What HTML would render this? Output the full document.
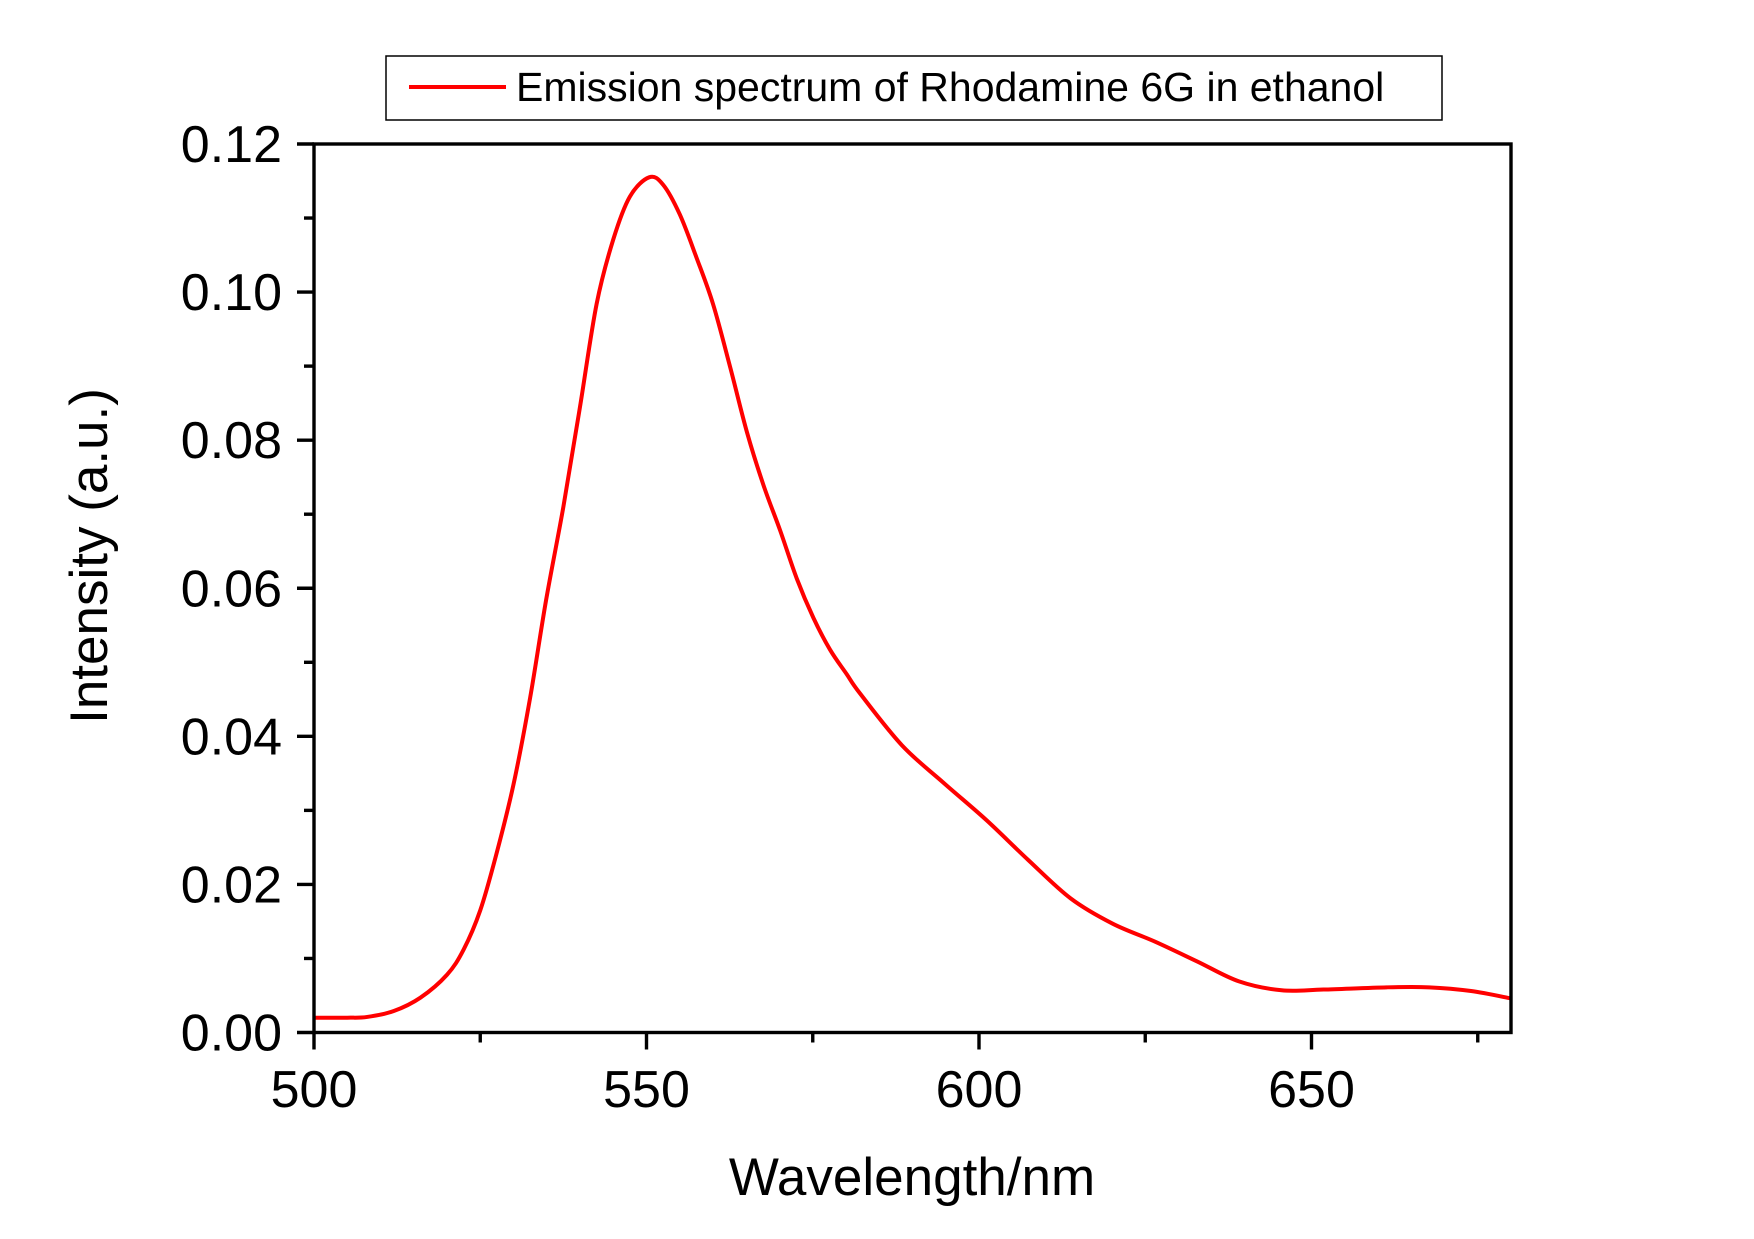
<!DOCTYPE html>
<html><head><meta charset="utf-8"><style>
html,body{margin:0;padding:0;background:#fff;}
svg{display:block;font-family:"Liberation Sans",Arial,sans-serif;}
</style></head><body>
<svg id="chart" width="1754" height="1239" viewBox="0 0 1754 1239" xmlns="http://www.w3.org/2000/svg">
<rect x="0" y="0" width="1754" height="1239" fill="#fff"/>
<g id="ticks"></g>
<path id="curve" fill="none" stroke="#ff0000" stroke-width="4" stroke-linejoin="round"/>
<rect x="314" y="144" width="1197" height="888.5" fill="none" stroke="#000" stroke-width="3.4"/>
<g>
<rect x="386" y="56" width="1056" height="64" fill="#fff" stroke="#000" stroke-width="1.5"/>
<line x1="409" y1="87" x2="506" y2="87" stroke="#ff0000" stroke-width="4"/>
<text x="516" y="101" font-size="41" fill="#000">Emission spectrum of Rhodamine 6G in ethanol</text>
</g>
<text x="912" y="1195" font-size="53" text-anchor="middle">Wavelength/nm</text>
<text transform="translate(107,556) rotate(-90)" font-size="53" text-anchor="middle">Intensity (a.u.)</text>
</svg>
<script>
const wavelengths=[500,505,508,512,516,520,522.5,525,527.4,530,532.5,534.9,537.5,540,542.5,545,547.5,550.4,552.5,555,557.5,560,562.6,565.1,567.6,570.1,572.6,575.1,577.6,580.1,582.1,588.4,594.7,601.1,607.4,613.8,620.1,626.4,632.8,639.1,645.5,651.8,661.3,667.7,674,680];
const intensities=[.002,.002,.0021,.0029,.0047,.0078,.0112,.0165,.024,.0335,.0452,.0584,.071,.0845,.0984,.1071,.1129,.1155,.1145,.1105,.1047,.0984,.0898,.0811,.0739,.0678,.0613,.0560,.0517,.0484,.0458,.0388,.0337,.0287,.0233,.0181,.0147,.0123,.0096,.0069,.0057,.0058,.0061,.0061,.0056,.0046];
const xTicks=[500,550,600,650];
const xMinor=[525,575,625,675];
const yTicks=[0,0.02,0.04,0.06,0.08,0.10,0.12];
const yTickLabels=["0.00","0.02","0.04","0.06","0.08","0.10","0.12"];
const yMinor=[0.01,0.03,0.05,0.07,0.09,0.11];
const X0=314,X1=1511,Y0=1032.5,Y1=144;
function sx(v){return X0+(v-500)/(680-500)*(X1-X0);}
function sy(v){return Y0-(v-0)/(0.12)*(Y0-Y1);}
const NS="http://www.w3.org/2000/svg";
const pts=wavelengths.map((w,i)=>[sx(w),sy(intensities[i])]);
let d="M"+pts[0][0]+","+pts[0][1];
for(let i=0;i<pts.length-1;i++){
 const p0=pts[Math.max(0,i-1)],p1=pts[i],p2=pts[i+1],p3=pts[Math.min(pts.length-1,i+2)];
 const c1=[p1[0]+(p2[0]-p0[0])/6,p1[1]+(p2[1]-p0[1])/6];
 const c2=[p2[0]-(p3[0]-p1[0])/6,p2[1]-(p3[1]-p1[1])/6];
 d+=" C"+c1[0]+","+c1[1]+" "+c2[0]+","+c2[1]+" "+p2[0]+","+p2[1];
}
document.getElementById('curve').setAttribute('d',d);
const g=document.getElementById('ticks');
function line(x1,y1,x2,y2,name){const l=document.createElementNS(NS,'line');
l.setAttribute('x1',x1);l.setAttribute('y1',y1);l.setAttribute('x2',x2);l.setAttribute('y2',y2);
l.setAttribute('stroke','#000');l.setAttribute('stroke-width','3.4');


g.appendChild(l);}
function text(x,y,s,anchor,name){const t=document.createElementNS(NS,'text');
t.setAttribute('x',x);t.setAttribute('y',y);t.setAttribute('font-size','52');t.setAttribute('text-anchor',anchor);
t.textContent=s;


g.appendChild(t);}
xTicks.forEach(v=>{line(sx(v),Y0,sx(v),Y0+17,'x-major-tick');text(sx(v),1107,String(v),'middle','x-tick-label');});
xMinor.forEach(v=>line(sx(v),Y0,sx(v),Y0+10,'x-minor-tick'));
yTicks.forEach((v,i)=>{line(X0-17,sy(v),X0,sy(v),'y-major-tick');text(282,sy(v)+18,yTickLabels[i],'end','y-tick-label');});
yMinor.forEach(v=>line(X0-10,sy(v),X0,sy(v),'y-minor-tick'));
</script>
</body></html>
